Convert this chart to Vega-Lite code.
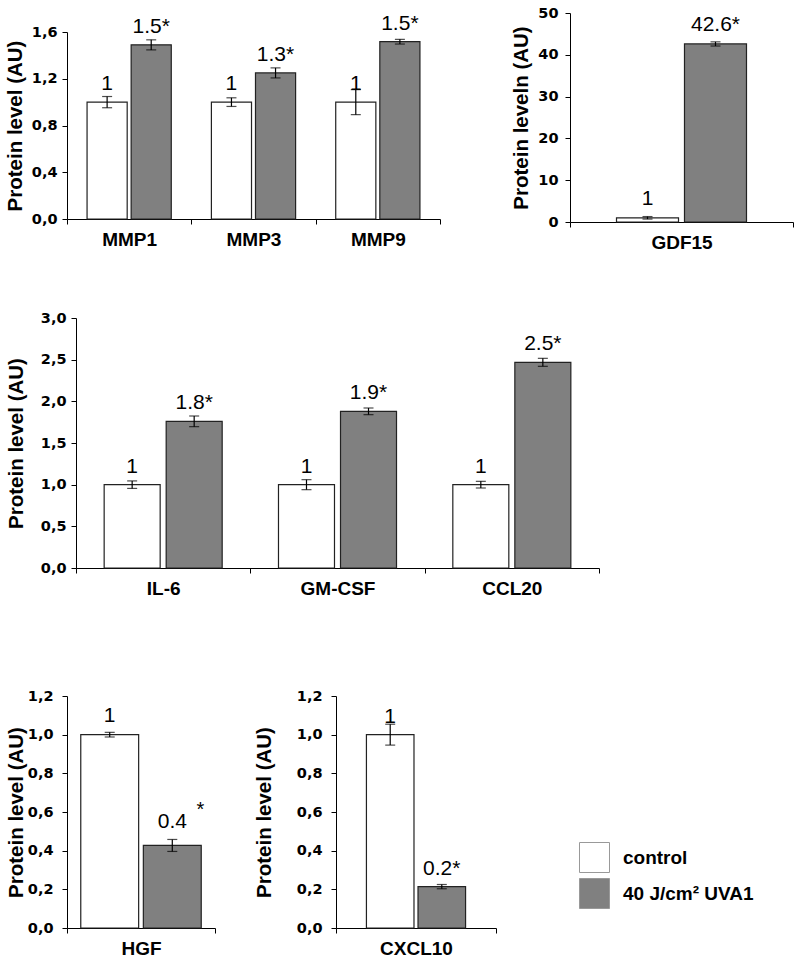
{
  "$schema": "https://vega.github.io/schema/vega-lite/v6.json",
  "background": "white",
  "padding": {"left": 5, "top": 5, "right": 5, "bottom": 0},
  "config": {
    "font": "Liberation Sans",
    "view": {"stroke": null},
    "axis": {
      "grid": false,
      "domainColor": "#000",
      "tickColor": "#000",
      "labelColor": "#000",
      "titleColor": "#000",
      "titleFont": "Liberation Sans",
      "labelFontWeight": "bold",
      "titleFontWeight": "bold",
      "titleFontSize": 20.5,
      "tickSize": 5,
      "domainWidth": 1,
      "tickWidth": 1,
      "labelOverlap": false
    },
    "axisY": {"labelFont": "DejaVu Sans", "labelFontSize": 14.5, "labelPadding": 5, "titlePadding": 4, "labelOverlap": false},
    "axisX": {"labelFont": "Liberation Sans", "labelFontSize": 19, "labelPadding": 6, "labelAngle": 0, "tickBand": "extent", "title": null},
    "text": {"font": "Liberation Sans", "fontSize": 21, "color": "#000"}
  },
  "datasets": {
    "mmp": [
      {"gene": "MMP1", "cond": "control", "value": 1.0, "lo": 0.952, "hi": 1.048, "label": "1"},
      {"gene": "MMP1", "cond": "40 J/cm² UVA1", "value": 1.49, "lo": 1.447, "hi": 1.533, "label": "1.5*"},
      {"gene": "MMP3", "cond": "control", "value": 1.0, "lo": 0.963, "hi": 1.037, "label": "1"},
      {"gene": "MMP3", "cond": "40 J/cm² UVA1", "value": 1.25, "lo": 1.207, "hi": 1.293, "label": "1.3*"},
      {"gene": "MMP9", "cond": "control", "value": 1.0, "lo": 0.893, "hi": 1.107, "label": "1"},
      {"gene": "MMP9", "cond": "40 J/cm² UVA1", "value": 1.517, "lo": 1.497, "hi": 1.537, "label": "1.5*"}
    ],
    "gdf": [
      {"gene": "GDF15", "cond": "control", "value": 1.0, "lo": 0.7, "hi": 1.3, "label": "1"},
      {"gene": "GDF15", "cond": "40 J/cm² UVA1", "value": 42.6, "lo": 42.1, "hi": 43.1, "label": "42.6*"}
    ],
    "mid": [
      {"gene": "IL-6", "cond": "control", "value": 1.0, "lo": 0.955, "hi": 1.045, "label": "1"},
      {"gene": "IL-6", "cond": "40 J/cm² UVA1", "value": 1.76, "lo": 1.696, "hi": 1.824, "label": "1.8*"},
      {"gene": "GM-CSF", "cond": "control", "value": 1.0, "lo": 0.94, "hi": 1.06, "label": "1"},
      {"gene": "GM-CSF", "cond": "40 J/cm² UVA1", "value": 1.88, "lo": 1.84, "hi": 1.92, "label": "1.9*"},
      {"gene": "CCL20", "cond": "control", "value": 1.0, "lo": 0.96, "hi": 1.04, "label": "1"},
      {"gene": "CCL20", "cond": "40 J/cm² UVA1", "value": 2.468, "lo": 2.42, "hi": 2.516, "label": "2.5*"}
    ],
    "hgf": [
      {"gene": "HGF", "cond": "control", "value": 1.0, "lo": 0.988, "hi": 1.012, "label": "1"},
      {"gene": "HGF", "cond": "40 J/cm² UVA1", "value": 0.427, "lo": 0.396, "hi": 0.458, "label": "0.4"}
    ],
    "cxcl": [
      {"gene": "CXCL10", "cond": "control", "value": 1.0, "lo": 0.946, "hi": 1.054, "label": "1"},
      {"gene": "CXCL10", "cond": "40 J/cm² UVA1", "value": 0.214, "lo": 0.203, "hi": 0.225, "label": "0.2*"}
    ]
  },
  "resolve": {"scale": {"fill": "independent", "xOffset": "independent", "x": "independent", "y": "independent"}, "legend": {"fill": "independent"}},
  "columns": 1,
  "align": "none",
  "spacing": 58,
  "concat": [
    {
      "resolve": {"scale": {"fill": "independent", "xOffset": "independent", "x": "independent", "y": "independent"}, "legend": {"fill": "independent"}},
      "columns": 2,
      "align": "none",
      "spacing": 70,
      "concat": [
        {
          "resolve": {"scale": {"fill": "independent", "xOffset": "independent", "x": "independent", "y": "independent"}, "legend": {"fill": "independent"}},
          "columns": 1,
          "align": "none",
          "spacing": -2,
          "concat": [
            {
              "width": 10,
              "height": 1,
              "data": {"values": []},
              "mark": "point"
            },
            {
              "width": 373,
              "height": 187,
              "data": {"name": "mmp"},
              "encoding": {
                "x": {"field": "gene", "type": "nominal", "sort": null, "scale": {"paddingInner": 0, "paddingOuter": 0}},
                "xOffset": {"field": "cond", "type": "nominal", "sort": ["control", "40 J/cm² UVA1"], "scale": {"paddingInner": 0.09, "paddingOuter": 0.455}}
              },
              "layer": [
                {
                  "mark": {"type": "bar", "stroke": "#222", "strokeWidth": 1.2},
                  "encoding": {
                    "y": {"field": "value", "type": "quantitative", "scale": {"domain": [0, 1.6], "nice": false}, "axis": {"values": [0, 0.4, 0.8, 1.2, 1.6], "labelExpr": "replace(format(datum.value, '.1f'), '.', ',')", "title": "Protein level (AU)", "labelPadding": 5, "titlePadding": 6, "labelOverlap": false}},
                    "fill": {"field": "cond", "type": "nominal", "scale": {"domain": ["control", "40 J/cm² UVA1"], "range": ["#ffffff", "#808080"]}, "legend": null}
                  }
                },
                {
                  "mark": {"type": "rule", "color": "#000", "strokeWidth": 1.2},
                  "encoding": {"y": {"field": "lo", "type": "quantitative", "title": "Protein level (AU)"}, "y2": {"field": "hi"}}
                },
                {
                  "mark": {"type": "tick", "orient": "horizontal", "size": 10, "thickness": 1.2, "color": "#000"},
                  "encoding": {"y": {"field": "lo", "type": "quantitative", "title": "Protein level (AU)"}}
                },
                {
                  "mark": {"type": "tick", "orient": "horizontal", "size": 10, "thickness": 1.2, "color": "#000"},
                  "encoding": {"y": {"field": "hi", "type": "quantitative", "title": "Protein level (AU)"}}
                },
                {
                  "mark": {"type": "text", "dy": -12, "baseline": "alphabetic"},
                  "encoding": {"y": {"field": "value", "type": "quantitative", "title": "Protein level (AU)"}, "text": {"field": "label"}}
                }
              ]
            }
          ]
        },
        {
          "width": 223,
          "height": 209,
          "data": {"name": "gdf"},
          "encoding": {
            "x": {"field": "gene", "type": "nominal", "sort": null, "scale": {"paddingInner": 0, "paddingOuter": 0}},
            "xOffset": {"field": "cond", "type": "nominal", "sort": ["control", "40 J/cm² UVA1"], "scale": {"paddingInner": 0.088, "paddingOuter": 0.684}}
          },
          "layer": [
            {
              "mark": {"type": "bar", "stroke": "#222", "strokeWidth": 1.2},
              "encoding": {
                "y": {"field": "value", "type": "quantitative", "scale": {"domain": [0, 50], "nice": false}, "axis": {"values": [0, 10, 20, 30, 40, 50], "format": "d", "title": "Protein leveln (AU)", "labelPadding": 7, "titlePadding": 6, "labelOverlap": false}},
                "fill": {"field": "cond", "type": "nominal", "scale": {"domain": ["control", "40 J/cm² UVA1"], "range": ["#ffffff", "#808080"]}, "legend": null}
              }
            },
            {
              "mark": {"type": "rule", "color": "#000", "strokeWidth": 1.2},
              "encoding": {"y": {"field": "lo", "type": "quantitative", "title": "Protein leveln (AU)"}, "y2": {"field": "hi"}}
            },
            {
              "mark": {"type": "tick", "orient": "horizontal", "size": 10, "thickness": 1.2, "color": "#000"},
              "encoding": {"y": {"field": "lo", "type": "quantitative", "title": "Protein leveln (AU)"}}
            },
            {
              "mark": {"type": "tick", "orient": "horizontal", "size": 10, "thickness": 1.2, "color": "#000"},
              "encoding": {"y": {"field": "hi", "type": "quantitative", "title": "Protein leveln (AU)"}}
            },
            {
              "mark": {"type": "text", "dy": -13, "baseline": "alphabetic"},
              "encoding": {"y": {"field": "value", "type": "quantitative", "title": "Protein leveln (AU)"}, "text": {"field": "label"}}
            }
          ]
        }
      ]
    },
    {
      "resolve": {"scale": {"fill": "independent", "xOffset": "independent", "x": "independent", "y": "independent"}, "legend": {"fill": "independent"}},
      "columns": 1,
      "align": "none",
      "spacing": 90,
      "concat": [
        {
          "width": 532,
          "height": 250,
          "data": {"name": "mid"},
          "encoding": {
            "x": {"field": "gene", "type": "nominal", "sort": null, "scale": {"paddingInner": 0, "paddingOuter": 0, "range": [9, 532]}},
            "xOffset": {"field": "cond", "type": "nominal", "sort": ["control", "40 J/cm² UVA1"], "scale": {"paddingInner": 0.097, "paddingOuter": 0.454}}
          },
          "layer": [
            {
              "mark": {"type": "bar", "stroke": "#222", "strokeWidth": 1.2},
              "encoding": {
                "y": {"field": "value", "type": "quantitative", "scale": {"domain": [0, 3], "nice": false}, "axis": {"values": [0, 0.5, 1, 1.5, 2, 2.5, 3], "labelExpr": "replace(format(datum.value, '.1f'), '.', ',')", "title": "Protein level (AU)", "labelPadding": 5, "titlePadding": 14, "offset": -9, "labelOverlap": false}},
                "fill": {"field": "cond", "type": "nominal", "scale": {"domain": ["control", "40 J/cm² UVA1"], "range": ["#ffffff", "#808080"]}, "legend": null}
              }
            },
            {
              "mark": {"type": "rule", "color": "#000", "strokeWidth": 1.2},
              "encoding": {"y": {"field": "lo", "type": "quantitative", "title": "Protein level (AU)"}, "y2": {"field": "hi"}}
            },
            {
              "mark": {"type": "tick", "orient": "horizontal", "size": 10, "thickness": 1.2, "color": "#000"},
              "encoding": {"y": {"field": "lo", "type": "quantitative", "title": "Protein level (AU)"}}
            },
            {
              "mark": {"type": "tick", "orient": "horizontal", "size": 10, "thickness": 1.2, "color": "#000"},
              "encoding": {"y": {"field": "hi", "type": "quantitative", "title": "Protein level (AU)"}}
            },
            {
              "mark": {"type": "text", "dy": -12, "baseline": "alphabetic"},
              "encoding": {"y": {"field": "value", "type": "quantitative", "title": "Protein level (AU)"}, "text": {"field": "label"}}
            }
          ]
        },
        {
          "resolve": {"scale": {"fill": "independent", "xOffset": "independent", "x": "independent", "y": "independent"}, "legend": {"fill": "independent"}},
          "columns": 2,
          "align": "none",
          "spacing": 38,
          "concat": [
            {
              "width": 148,
              "height": 232,
              "data": {"name": "hgf"},
              "encoding": {
                "x": {"field": "gene", "type": "nominal", "sort": null, "scale": {"paddingInner": 0, "paddingOuter": 0}},
                "xOffset": {"field": "cond", "type": "nominal", "sort": ["control", "40 J/cm² UVA1"], "scale": {"paddingInner": 0.075, "paddingOuter": 0.22}}
              },
              "layer": [
                {
                  "mark": {"type": "bar", "stroke": "#222", "strokeWidth": 1.2},
                  "encoding": {
                    "y": {"field": "value", "type": "quantitative", "scale": {"domain": [0, 1.2], "nice": false}, "axis": {"tickCount": 6, "labelExpr": "replace(format(datum.value, '.1f'), '.', ',')", "title": "Protein level (AU)", "labelPadding": 9, "titlePadding": 1, "labelOverlap": false}},
                    "fill": {"field": "cond", "type": "nominal", "scale": {"domain": ["control", "40 J/cm² UVA1"], "range": ["#ffffff", "#808080"]}, "legend": null}
                  }
                },
                {
                  "mark": {"type": "rule", "color": "#000", "strokeWidth": 1.2},
                  "encoding": {"y": {"field": "lo", "type": "quantitative", "title": "Protein level (AU)"}, "y2": {"field": "hi"}}
                },
                {
                  "mark": {"type": "tick", "orient": "horizontal", "size": 10, "thickness": 1.2, "color": "#000"},
                  "encoding": {"y": {"field": "lo", "type": "quantitative", "title": "Protein level (AU)"}}
                },
                {
                  "mark": {"type": "tick", "orient": "horizontal", "size": 10, "thickness": 1.2, "color": "#000"},
                  "encoding": {"y": {"field": "hi", "type": "quantitative", "title": "Protein level (AU)"}}
                },
                {
                  "transform": [{"filter": "datum.cond == 'control'"}],
                  "mark": {"type": "text", "dy": -13, "baseline": "alphabetic"},
                  "encoding": {"y": {"field": "value", "type": "quantitative", "title": "Protein level (AU)"}, "text": {"field": "label"}}
                },
                {
                  "transform": [{"filter": "datum.cond != 'control'"}],
                  "mark": {"type": "text", "dy": -17, "baseline": "alphabetic"},
                  "encoding": {"y": {"field": "value", "type": "quantitative", "title": "Protein level (AU)"}, "text": {"field": "label"}}
                },
                {
                  "transform": [{"filter": "datum.cond != 'control'"}],
                  "mark": {"type": "text", "text": "*", "dx": 28, "dy": -29, "baseline": "alphabetic", "fontSize": 20},
                  "encoding": {"y": {"field": "value", "type": "quantitative", "title": "Protein level (AU)"}}
                }
              ]
            },
            {
              "width": 160,
              "height": 232,
              "data": {"name": "cxcl"},
              "encoding": {
                "x": {"field": "gene", "type": "nominal", "sort": null, "scale": {"paddingInner": 0, "paddingOuter": 0}},
                "xOffset": {"field": "cond", "type": "nominal", "sort": ["control", "40 J/cm² UVA1"], "scale": {"paddingInner": 0.078, "paddingOuter": 0.59}}
              },
              "layer": [
                {
                  "mark": {"type": "bar", "stroke": "#222", "strokeWidth": 1.2},
                  "encoding": {
                    "y": {"field": "value", "type": "quantitative", "scale": {"domain": [0, 1.2], "nice": false}, "axis": {"tickCount": 6, "labelExpr": "replace(format(datum.value, '.1f'), '.', ',')", "title": "Protein level (AU)", "labelPadding": 9, "titlePadding": 22, "labelOverlap": false}},
                    "fill": {
                      "field": "cond", "type": "nominal",
                      "scale": {"domain": ["control", "40 J/cm² UVA1"], "range": ["#ffffff", "#808080"]},
                      "legend": {"orient": "none", "legendX": 243, "legendY": 146, "title": null, "symbolType": "square", "symbolSize": 900, "symbolStrokeColor": "#999", "symbolStrokeWidth": 1, "labelFontSize": 19, "labelFontWeight": "bold", "labelColor": "#000", "labelFont": "Liberation Sans", "labelOffset": 13, "rowPadding": 1}
                    }
                  }
                },
                {
                  "mark": {"type": "rule", "color": "#000", "strokeWidth": 1.2},
                  "encoding": {"y": {"field": "lo", "type": "quantitative", "title": "Protein level (AU)"}, "y2": {"field": "hi"}}
                },
                {
                  "mark": {"type": "tick", "orient": "horizontal", "size": 10, "thickness": 1.2, "color": "#000"},
                  "encoding": {"y": {"field": "lo", "type": "quantitative", "title": "Protein level (AU)"}}
                },
                {
                  "mark": {"type": "tick", "orient": "horizontal", "size": 10, "thickness": 1.2, "color": "#000"},
                  "encoding": {"y": {"field": "hi", "type": "quantitative", "title": "Protein level (AU)"}}
                },
                {
                  "mark": {"type": "text", "dy": -12, "baseline": "alphabetic"},
                  "encoding": {"y": {"field": "value", "type": "quantitative", "title": "Protein level (AU)"}, "text": {"field": "label"}}
                }
              ]
            }
          ]
        }
      ]
    }
  ]
}
